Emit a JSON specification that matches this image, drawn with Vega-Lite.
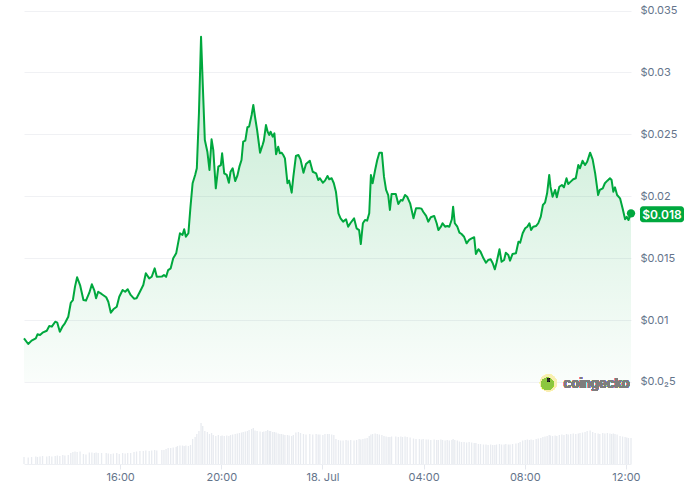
{
  "$schema": "https://vega.github.io/schema/vega-lite/v6.json",
  "width": 607,
  "height": 464,
  "autosize": {"type": "none"},
  "padding": {"left": 24, "top": 0, "right": 55, "bottom": 22},
  "background": "white",
  "config": {"view": {"stroke": null}, "font": "Inter", "text": {"font": "Inter"}},
  "data": {
    "format": {"parse": {"t": "utc:'%Y-%m-%dT%H:%M'"}},
    "values": [
{"t":"2024-07-17T12:12","p":0.00853,"v":7},
{"t":"2024-07-17T12:22","p":0.00807,"v":6.5},
{"t":"2024-07-17T12:30","p":0.00834,"v":7},
{"t":"2024-07-17T12:40","p":0.00852,"v":7.5},
{"t":"2024-07-17T12:44","p":0.00885,"v":7},
{"t":"2024-07-17T12:50","p":0.0088,"v":7.5},
{"t":"2024-07-17T12:56","p":0.00898,"v":8},
{"t":"2024-07-17T13:06","p":0.00914,"v":7.5},
{"t":"2024-07-17T13:12","p":0.00952,"v":8},
{"t":"2024-07-17T13:18","p":0.00947,"v":7.5},
{"t":"2024-07-17T13:26","p":0.00987,"v":8},
{"t":"2024-07-17T13:31","p":0.00979,"v":8.5},
{"t":"2024-07-17T13:37","p":0.00906,"v":8},
{"t":"2024-07-17T13:44","p":0.00952,"v":9},
{"t":"2024-07-17T13:49","p":0.00974,"v":8.5},
{"t":"2024-07-17T13:57","p":0.01027,"v":9},
{"t":"2024-07-17T14:03","p":0.0114,"v":11},
{"t":"2024-07-17T14:08","p":0.01162,"v":12},
{"t":"2024-07-17T14:13","p":0.0127,"v":12.5},
{"t":"2024-07-17T14:18","p":0.01346,"v":12},
{"t":"2024-07-17T14:25","p":0.01283,"v":12.5},
{"t":"2024-07-17T14:33","p":0.01162,"v":10},
{"t":"2024-07-17T14:39","p":0.01157,"v":9.5},
{"t":"2024-07-17T14:47","p":0.01221,"v":11.5},
{"t":"2024-07-17T14:53","p":0.01289,"v":11.5},
{"t":"2024-07-17T14:59","p":0.01237,"v":11},
{"t":"2024-07-17T15:03","p":0.01176,"v":11.5},
{"t":"2024-07-17T15:08","p":0.01229,"v":11},
{"t":"2024-07-17T15:16","p":0.01211,"v":11},
{"t":"2024-07-17T15:27","p":0.01184,"v":11},
{"t":"2024-07-17T15:32","p":0.01148,"v":10.5},
{"t":"2024-07-17T15:38","p":0.0106,"v":10},
{"t":"2024-07-17T15:44","p":0.01087,"v":10.5},
{"t":"2024-07-17T15:52","p":0.01108,"v":11},
{"t":"2024-07-17T15:58","p":0.01189,"v":10},
{"t":"2024-07-17T16:06","p":0.01243,"v":11},
{"t":"2024-07-17T16:12","p":0.01229,"v":10.5},
{"t":"2024-07-17T16:18","p":0.01249,"v":11},
{"t":"2024-07-17T16:25","p":0.01203,"v":11},
{"t":"2024-07-17T16:33","p":0.01173,"v":12},
{"t":"2024-07-17T16:39","p":0.01176,"v":12.5},
{"t":"2024-07-17T16:47","p":0.01229,"v":13},
{"t":"2024-07-17T16:55","p":0.01283,"v":13},
{"t":"2024-07-17T17:01","p":0.01378,"v":13.5},
{"t":"2024-07-17T17:09","p":0.01337,"v":13},
{"t":"2024-07-17T17:15","p":0.0135,"v":13.5},
{"t":"2024-07-17T17:22","p":0.01418,"v":14},
{"t":"2024-07-17T17:27","p":0.0135,"v":13.5},
{"t":"2024-07-17T17:39","p":0.01351,"v":14},
{"t":"2024-07-17T17:44","p":0.01364,"v":14},
{"t":"2024-07-17T17:49","p":0.01349,"v":15},
{"t":"2024-07-17T17:54","p":0.01404,"v":16},
{"t":"2024-07-17T18:00","p":0.01418,"v":16},
{"t":"2024-07-17T18:06","p":0.01499,"v":16.5},
{"t":"2024-07-17T18:13","p":0.01539,"v":17},
{"t":"2024-07-17T18:16","p":0.01593,"v":18},
{"t":"2024-07-17T18:22","p":0.01701,"v":18.5},
{"t":"2024-07-17T18:28","p":0.01687,"v":18.5},
{"t":"2024-07-17T18:32","p":0.01733,"v":18},
{"t":"2024-07-17T18:36","p":0.01673,"v":18.5},
{"t":"2024-07-17T18:42","p":0.01701,"v":18},
{"t":"2024-07-17T18:47","p":0.01916,"v":19},
{"t":"2024-07-17T18:52","p":0.02105,"v":25},
{"t":"2024-07-17T18:58","p":0.02172,"v":27},
{"t":"2024-07-17T19:02","p":0.02226,"v":30},
{"t":"2024-07-17T19:07","p":0.0267,"v":33},
{"t":"2024-07-17T19:12","p":0.03288,"v":41},
{"t":"2024-07-17T19:16","p":0.02912,"v":38},
{"t":"2024-07-17T19:21","p":0.02454,"v":33},
{"t":"2024-07-17T19:27","p":0.0236,"v":32},
{"t":"2024-07-17T19:32","p":0.02212,"v":30},
{"t":"2024-07-17T19:37","p":0.0246,"v":31},
{"t":"2024-07-17T19:41","p":0.02374,"v":29},
{"t":"2024-07-17T19:47","p":0.02064,"v":28},
{"t":"2024-07-17T19:53","p":0.02239,"v":29},
{"t":"2024-07-17T19:59","p":0.02252,"v":28},
{"t":"2024-07-17T20:02","p":0.02347,"v":28.5},
{"t":"2024-07-17T20:07","p":0.02185,"v":28},
{"t":"2024-07-17T20:13","p":0.02172,"v":28.5},
{"t":"2024-07-17T20:18","p":0.02109,"v":28},
{"t":"2024-07-17T20:22","p":0.02198,"v":29},
{"t":"2024-07-17T20:27","p":0.02226,"v":29.5},
{"t":"2024-07-17T20:33","p":0.02123,"v":30},
{"t":"2024-07-17T20:38","p":0.02164,"v":30.5},
{"t":"2024-07-17T20:43","p":0.02239,"v":31},
{"t":"2024-07-17T20:48","p":0.02293,"v":31.5},
{"t":"2024-07-17T20:52","p":0.02441,"v":32},
{"t":"2024-07-17T20:57","p":0.02449,"v":32.5},
{"t":"2024-07-17T21:02","p":0.02557,"v":33},
{"t":"2024-07-17T21:06","p":0.02562,"v":34},
{"t":"2024-07-17T21:12","p":0.02656,"v":35},
{"t":"2024-07-17T21:16","p":0.02737,"v":36},
{"t":"2024-07-17T21:20","p":0.02642,"v":33.5},
{"t":"2024-07-17T21:25","p":0.02535,"v":33},
{"t":"2024-07-17T21:32","p":0.02352,"v":32.5},
{"t":"2024-07-17T21:38","p":0.02414,"v":32},
{"t":"2024-07-17T21:41","p":0.02449,"v":32.5},
{"t":"2024-07-17T21:46","p":0.02575,"v":33},
{"t":"2024-07-17T21:50","p":0.02521,"v":34},
{"t":"2024-07-17T21:54","p":0.02495,"v":33},
{"t":"2024-07-17T21:57","p":0.02521,"v":33},
{"t":"2024-07-17T22:02","p":0.02481,"v":32},
{"t":"2024-07-17T22:06","p":0.02508,"v":32},
{"t":"2024-07-17T22:10","p":0.02339,"v":31.5},
{"t":"2024-07-17T22:15","p":0.024,"v":30.5},
{"t":"2024-07-17T22:19","p":0.02347,"v":30},
{"t":"2024-07-17T22:23","p":0.02352,"v":30},
{"t":"2024-07-17T22:27","p":0.02333,"v":29.5},
{"t":"2024-07-17T22:31","p":0.02306,"v":29},
{"t":"2024-07-17T22:37","p":0.02105,"v":29},
{"t":"2024-07-17T22:41","p":0.02126,"v":28.5},
{"t":"2024-07-17T22:47","p":0.02029,"v":28},
{"t":"2024-07-17T22:51","p":0.02158,"v":29},
{"t":"2024-07-17T22:57","p":0.02325,"v":31.5},
{"t":"2024-07-17T23:03","p":0.02333,"v":32},
{"t":"2024-07-17T23:08","p":0.02298,"v":31},
{"t":"2024-07-17T23:15","p":0.0219,"v":30},
{"t":"2024-07-17T23:21","p":0.0226,"v":29.5},
{"t":"2024-07-17T23:30","p":0.02287,"v":30},
{"t":"2024-07-17T23:37","p":0.02198,"v":29.5},
{"t":"2024-07-17T23:45","p":0.02185,"v":30},
{"t":"2024-07-17T23:50","p":0.02131,"v":29.5},
{"t":"2024-07-17T23:54","p":0.02145,"v":29.5},
{"t":"2024-07-18T00:01","p":0.02109,"v":29},
{"t":"2024-07-18T00:06","p":0.02126,"v":30},
{"t":"2024-07-18T00:12","p":0.02164,"v":30},
{"t":"2024-07-18T00:16","p":0.02137,"v":30},
{"t":"2024-07-18T00:22","p":0.02145,"v":29.5},
{"t":"2024-07-18T00:27","p":0.02105,"v":29},
{"t":"2024-07-18T00:32","p":0.02037,"v":25},
{"t":"2024-07-18T00:38","p":0.01862,"v":24},
{"t":"2024-07-18T00:43","p":0.01822,"v":23.5},
{"t":"2024-07-18T00:49","p":0.01795,"v":23.5},
{"t":"2024-07-18T00:56","p":0.01814,"v":24},
{"t":"2024-07-18T01:01","p":0.01754,"v":23.5},
{"t":"2024-07-18T01:07","p":0.01786,"v":24},
{"t":"2024-07-18T01:15","p":0.01822,"v":23.5},
{"t":"2024-07-18T01:21","p":0.01741,"v":24},
{"t":"2024-07-18T01:27","p":0.01727,"v":25},
{"t":"2024-07-18T01:31","p":0.01614,"v":24.5},
{"t":"2024-07-18T01:36","p":0.01782,"v":25},
{"t":"2024-07-18T01:41","p":0.01808,"v":25.5},
{"t":"2024-07-18T01:46","p":0.01803,"v":26},
{"t":"2024-07-18T01:51","p":0.01862,"v":28},
{"t":"2024-07-18T01:55","p":0.02172,"v":29.5},
{"t":"2024-07-18T01:59","p":0.02105,"v":30},
{"t":"2024-07-18T02:05","p":0.02212,"v":30.5},
{"t":"2024-07-18T02:10","p":0.02293,"v":30},
{"t":"2024-07-18T02:15","p":0.02352,"v":29.5},
{"t":"2024-07-18T02:21","p":0.02352,"v":29},
{"t":"2024-07-18T02:26","p":0.02158,"v":28},
{"t":"2024-07-18T02:31","p":0.02051,"v":27.5},
{"t":"2024-07-18T02:36","p":0.0201,"v":27},
{"t":"2024-07-18T02:40","p":0.01889,"v":27},
{"t":"2024-07-18T02:44","p":0.02018,"v":27.5},
{"t":"2024-07-18T02:54","p":0.02018,"v":27.5},
{"t":"2024-07-18T03:00","p":0.01937,"v":27},
{"t":"2024-07-18T03:06","p":0.0197,"v":27.5},
{"t":"2024-07-18T03:10","p":0.01964,"v":27},
{"t":"2024-07-18T03:16","p":0.0201,"v":27.5},
{"t":"2024-07-18T03:21","p":0.01996,"v":27},
{"t":"2024-07-18T03:28","p":0.01943,"v":26.5},
{"t":"2024-07-18T03:36","p":0.01822,"v":25.5},
{"t":"2024-07-18T03:42","p":0.01903,"v":25},
{"t":"2024-07-18T03:50","p":0.01903,"v":25},
{"t":"2024-07-18T03:55","p":0.019,"v":24.5},
{"t":"2024-07-18T03:59","p":0.01875,"v":25},
{"t":"2024-07-18T04:06","p":0.01841,"v":24.5},
{"t":"2024-07-18T04:11","p":0.01795,"v":24.5},
{"t":"2024-07-18T04:17","p":0.0183,"v":24},
{"t":"2024-07-18T04:25","p":0.01841,"v":24.5},
{"t":"2024-07-18T04:31","p":0.01782,"v":24},
{"t":"2024-07-18T04:35","p":0.01727,"v":24},
{"t":"2024-07-18T04:41","p":0.01754,"v":24.5},
{"t":"2024-07-18T04:45","p":0.01782,"v":24},
{"t":"2024-07-18T04:51","p":0.01754,"v":23.5},
{"t":"2024-07-18T04:56","p":0.0176,"v":24},
{"t":"2024-07-18T05:01","p":0.01754,"v":23.5},
{"t":"2024-07-18T05:07","p":0.01814,"v":24},
{"t":"2024-07-18T05:10","p":0.01916,"v":25},
{"t":"2024-07-18T05:14","p":0.01782,"v":24},
{"t":"2024-07-18T05:20","p":0.01754,"v":23.5},
{"t":"2024-07-18T05:25","p":0.01706,"v":22.5},
{"t":"2024-07-18T05:30","p":0.01695,"v":22},
{"t":"2024-07-18T05:36","p":0.01673,"v":22},
{"t":"2024-07-18T05:42","p":0.0162,"v":21.5},
{"t":"2024-07-18T05:48","p":0.01647,"v":22},
{"t":"2024-07-18T05:54","p":0.0166,"v":21.5},
{"t":"2024-07-18T06:00","p":0.01669,"v":21},
{"t":"2024-07-18T06:04","p":0.01534,"v":21},
{"t":"2024-07-18T06:10","p":0.01572,"v":20},
{"t":"2024-07-18T06:15","p":0.01552,"v":20},
{"t":"2024-07-18T06:22","p":0.01499,"v":19.5},
{"t":"2024-07-18T06:28","p":0.01463,"v":19.5},
{"t":"2024-07-18T06:33","p":0.01485,"v":19},
{"t":"2024-07-18T06:39","p":0.01491,"v":19.5},
{"t":"2024-07-18T06:44","p":0.01459,"v":19},
{"t":"2024-07-18T06:49","p":0.0141,"v":19},
{"t":"2024-07-18T06:53","p":0.01463,"v":19.5},
{"t":"2024-07-18T07:00","p":0.01572,"v":20},
{"t":"2024-07-18T07:05","p":0.01471,"v":19.5},
{"t":"2024-07-18T07:11","p":0.01485,"v":19.5},
{"t":"2024-07-18T07:15","p":0.01544,"v":20},
{"t":"2024-07-18T07:21","p":0.01526,"v":19.5},
{"t":"2024-07-18T07:25","p":0.0148,"v":19.5},
{"t":"2024-07-18T07:31","p":0.01534,"v":20},
{"t":"2024-07-18T07:39","p":0.01539,"v":20.5},
{"t":"2024-07-18T07:45","p":0.01633,"v":21},
{"t":"2024-07-18T07:49","p":0.01625,"v":22},
{"t":"2024-07-18T07:55","p":0.01701,"v":23.5},
{"t":"2024-07-18T08:01","p":0.01741,"v":24},
{"t":"2024-07-18T08:06","p":0.01754,"v":24.5},
{"t":"2024-07-18T08:11","p":0.01782,"v":24},
{"t":"2024-07-18T08:15","p":0.01727,"v":24.5},
{"t":"2024-07-18T08:20","p":0.01754,"v":24},
{"t":"2024-07-18T08:27","p":0.0176,"v":25},
{"t":"2024-07-18T08:32","p":0.01782,"v":25.5},
{"t":"2024-07-18T08:38","p":0.01835,"v":26},
{"t":"2024-07-18T08:43","p":0.01929,"v":27},
{"t":"2024-07-18T08:48","p":0.01948,"v":27.5},
{"t":"2024-07-18T08:53","p":0.02024,"v":28},
{"t":"2024-07-18T08:58","p":0.02172,"v":29},
{"t":"2024-07-18T09:01","p":0.02077,"v":28.5},
{"t":"2024-07-18T09:06","p":0.01996,"v":28},
{"t":"2024-07-18T09:12","p":0.02051,"v":28.5},
{"t":"2024-07-18T09:16","p":0.01992,"v":28},
{"t":"2024-07-18T09:22","p":0.02077,"v":29},
{"t":"2024-07-18T09:28","p":0.02091,"v":29.5},
{"t":"2024-07-18T09:33","p":0.02072,"v":29},
{"t":"2024-07-18T09:39","p":0.02145,"v":30},
{"t":"2024-07-18T09:43","p":0.02099,"v":29.5},
{"t":"2024-07-18T09:49","p":0.02118,"v":30},
{"t":"2024-07-18T09:55","p":0.02137,"v":30.5},
{"t":"2024-07-18T10:01","p":0.02145,"v":30},
{"t":"2024-07-18T10:07","p":0.02252,"v":30.5},
{"t":"2024-07-18T10:11","p":0.02226,"v":31},
{"t":"2024-07-18T10:17","p":0.02287,"v":31.5},
{"t":"2024-07-18T10:23","p":0.02252,"v":32},
{"t":"2024-07-18T10:28","p":0.02279,"v":33},
{"t":"2024-07-18T10:35","p":0.02352,"v":33.5},
{"t":"2024-07-18T10:41","p":0.02298,"v":32},
{"t":"2024-07-18T10:47","p":0.02185,"v":31},
{"t":"2024-07-18T10:54","p":0.0201,"v":30.5},
{"t":"2024-07-18T10:58","p":0.02051,"v":30},
{"t":"2024-07-18T11:05","p":0.02064,"v":31},
{"t":"2024-07-18T11:10","p":0.02105,"v":30.5},
{"t":"2024-07-18T11:16","p":0.02126,"v":31},
{"t":"2024-07-18T11:22","p":0.02145,"v":30.5},
{"t":"2024-07-18T11:26","p":0.02131,"v":30},
{"t":"2024-07-18T11:30","p":0.02037,"v":30.5},
{"t":"2024-07-18T11:34","p":0.02072,"v":30},
{"t":"2024-07-18T11:39","p":0.0201,"v":29.5},
{"t":"2024-07-18T11:46","p":0.01983,"v":28},
{"t":"2024-07-18T11:52","p":0.01903,"v":27.5},
{"t":"2024-07-18T11:58","p":0.01814,"v":27},
{"t":"2024-07-18T12:02","p":0.01833,"v":26.5},
{"t":"2024-07-18T12:06","p":0.01808,"v":26},
{"t":"2024-07-18T12:12","p":0.01862,"v":26}
    ]
  },
  "encoding": {
    "x": {
      "field": "t",
      "type": "temporal",
      "scale": {
        "type": "utc",
        "nice": false,
        "padding": 0,
        "domain": [
          {"year": 2024, "month": 7, "date": 17, "hours": 12, "minutes": 12, "utc": true},
          {"year": 2024, "month": 7, "date": 18, "hours": 12, "minutes": 12, "utc": true}
        ]
      },
      "axis": {
        "title": null,
        "grid": false,
        "values": [
          {"year": 2024, "month": 7, "date": 17, "hours": 16, "utc": true},
          {"year": 2024, "month": 7, "date": 17, "hours": 20, "utc": true},
          {"year": 2024, "month": 7, "date": 18, "hours": 0, "utc": true},
          {"year": 2024, "month": 7, "date": 18, "hours": 4, "utc": true},
          {"year": 2024, "month": 7, "date": 18, "hours": 8, "utc": true},
          {"year": 2024, "month": 7, "date": 18, "hours": 12, "utc": true}
        ],
        "labelExpr": "utcFormat(datum.value, '%H:%M') == '00:00' ? utcFormat(datum.value, '%-d. %b') : utcFormat(datum.value, '%H:%M')",
        "labelAngle": 0,
        "labelFont": "Inter",
        "labelFontSize": 11,
        "labelColor": "#64748b",
        "labelPadding": 2,
        "tickColor": "#e5e8ee",
        "tickSize": 5,
        "domainColor": "#eef0f4",
        "labelFlush": false
      }
    }
  },
  "layer": [
    {
      "mark": {"type": "bar", "width": 1.3, "color": "#e8ebf0"},
      "encoding": {
        "y": {"field": "v", "type": "quantitative", "scale": {"domain": [0, 464], "nice": false}, "axis": null}
      }
    },
    {
      "encoding": {
        "y": {
          "field": "p",
          "type": "quantitative",
          "scale": {"domain": [-0.001622, 0.035848], "nice": false, "zero": false},
          "axis": {
            "orient": "right",
            "title": null,
            "values": [0.005, 0.01, 0.015, 0.02, 0.025, 0.03, 0.035],
            "labelExpr": "datum.value < 0.0075 ? '$0.0₂5' : '$' + format(datum.value, '~g')",
            "grid": true,
            "gridColor": "#f0f1f4",
            "gridWidth": 1,
            "domain": false,
            "ticks": false,
            "tickSize": 0,
            "labelPadding": 9,
            "labelFont": "Inter",
            "labelFontSize": 11,
            "labelColor": "#64748b"
          }
        }
      },
      "layer": [
        {
          "mark": {
            "type": "area",
            "color": {
              "gradient": "linear",
              "x1": 0, "y1": 0, "x2": 0, "y2": 1,
              "stops": [
                {"offset": 0, "color": "rgba(0,168,62,0.24)"},
                {"offset": 1, "color": "rgba(0,168,62,0.02)"}
              ]
            }
          },
          "encoding": {"y2": {"datum": 0.005}}
        },
        {
          "mark": {"type": "line", "color": "#00a83e", "strokeWidth": 2, "strokeJoin": "round"}
        },
        {
          "data": {
            "format": {"parse": {"t": "utc:'%Y-%m-%dT%H:%M'"}},
            "values": [{"t": "2024-07-18T12:12", "p": 0.01862, "label": "$0.018"}]
          },
          "layer": [
            {"mark": {"type": "point", "filled": true, "size": 70, "color": "#00a83e", "opacity": 1}},
            {
              "mark": {"type": "rect", "color": "#00a83e", "cornerRadius": 3, "xOffset": 9, "x2Offset": 53, "yOffset": -7, "y2Offset": 9},
              "encoding": {"x2": {"field": "t"}, "y2": {"field": "p"}}
            },
            {
              "mark": {"type": "text", "color": "white", "fontSize": 12, "fontWeight": 600, "align": "center", "baseline": "middle", "dx": 31, "dy": 1.5},
              "encoding": {"text": {"field": "label"}}
            }
          ]
        },
        {
          "mark": {"type": "point", "filled": true, "size": 290, "color": "#f8eeb2", "opacity": 1},
          "encoding": {
            "x": {"datum": {"year": 2024, "month": 7, "date": 18, "hours": 8, "minutes": 56, "utc": true}},
            "y": {"datum": 0.00492}
          }
        },
        {
          "mark": {"type": "point", "filled": true, "size": 150, "color": "#8cc63f", "opacity": 1, "xOffset": -1, "yOffset": 1},
          "encoding": {
            "x": {"datum": {"year": 2024, "month": 7, "date": 18, "hours": 8, "minutes": 56, "utc": true}},
            "y": {"datum": 0.00492}
          }
        },
        {
          "mark": {"type": "point", "filled": true, "size": 6, "color": "#2d2d2d", "opacity": 1, "xOffset": 0, "yOffset": -3},
          "encoding": {
            "x": {"datum": {"year": 2024, "month": 7, "date": 18, "hours": 8, "minutes": 56, "utc": true}},
            "y": {"datum": 0.00492}
          }
        },
        {
          "mark": {"type": "text", "text": "coingecko", "align": "left", "baseline": "middle", "fontSize": 13, "fontWeight": "bold", "color": "#7d7d7d", "dy": 1},
          "encoding": {
            "x": {"datum": {"year": 2024, "month": 7, "date": 18, "hours": 9, "minutes": 32, "utc": true}},
            "y": {"datum": 0.00492}
          }
        }
      ]
    }
  ],
  "resolve": {"scale": {"y": "independent"}}
}
